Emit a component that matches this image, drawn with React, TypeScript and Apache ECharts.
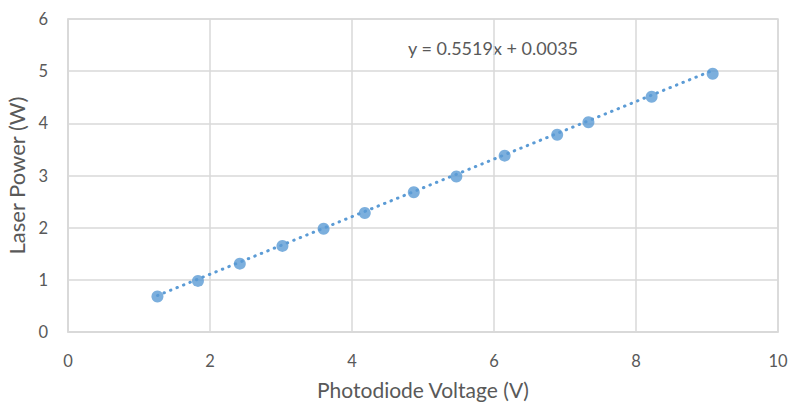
import React, { useEffect, useRef } from "react";
import * as echarts from "echarts";

// Photodiode calibration measurements
const voltage = [1.26, 1.83, 2.42, 3.02, 3.6, 4.18, 4.87, 5.47, 6.15, 6.89, 7.33, 8.22, 9.08];
const power = [0.68, 0.98, 1.31, 1.65, 1.98, 2.28, 2.68, 2.98, 3.38, 3.78, 4.02, 4.51, 4.95];

// Linear fit coefficients shown on the chart
const slope = 0.5519;
const intercept = 0.0035;

const xTicks = [0, 2, 4, 6, 8, 10];
const yTicks = [0, 1, 2, 3, 4, 5, 6];

const FONT = "Lato, 'Open Sans', sans-serif";
const TEXT = "#595959";
const GRID = "#d9d9d9";
const BLUE = "#5b9bd5";

export default function App() {
  const ref = useRef<HTMLDivElement>(null);

  useEffect(() => {
    if (!ref.current) return;
    const chart = echarts.init(ref.current, undefined, { renderer: "svg" });
    const xMin = Math.min(...voltage);
    const xMax = Math.max(...voltage);
    const fit = [xMin, xMax].map((x) => [x, slope * x + intercept]);
    const points = voltage.map((v, i) => [v, power[i]]);

    chart.setOption({
      animation: false,
      backgroundColor: "#ffffff",
      grid: {
        left: 68,
        right: 12,
        top: 19,
        bottom: 73,
        containLabel: false,
        outerBoundsMode: "none",
      },
      xAxis: {
        type: "value",
        min: xTicks[0],
        max: xTicks[xTicks.length - 1],
        interval: 2,
        name: "Photodiode Voltage (V)",
        nameLocation: "middle",
        nameGap: 47,
        nameTextStyle: { color: TEXT, fontFamily: FONT, fontSize: 21 },
        axisLine: { show: true, lineStyle: { color: GRID, width: 1.5 } },
        axisTick: { show: false },
        splitLine: { show: true, lineStyle: { color: GRID, width: 1.5 } },
        axisLabel: { color: TEXT, fontFamily: FONT, fontSize: 16.5, margin: 20 },
      },
      yAxis: {
        type: "value",
        min: yTicks[0],
        max: yTicks[yTicks.length - 1],
        interval: 1,
        name: "Laser Power (W)",
        nameLocation: "middle",
        nameGap: 40,
        nameTextStyle: { color: TEXT, fontFamily: FONT, fontSize: 22 },
        axisLine: { show: true, lineStyle: { color: GRID, width: 1.5 } },
        axisTick: { show: false },
        splitLine: { show: true, lineStyle: { color: GRID, width: 1.5 } },
        axisLabel: { color: TEXT, fontFamily: FONT, fontSize: 16.5, margin: 20 },
      },
      graphic: [
        {
          type: "rect",
          shape: { x: 68, y: 19, width: 710, height: 313 },
          style: { fill: "none", stroke: GRID, lineWidth: 1.5 },
          silent: true,
          z: 0,
        },
        {
          type: "text",
          left: 408,
          top: 39,
          style: {
            text: `y = ${slope}x + ${intercept}`,
            fill: TEXT,
            font: `18px ${FONT}`,
          },
        },
      ],
      series: [
        {
          type: "line",
          data: fit,
          symbol: "none",
          lineStyle: { color: BLUE, width: 3, type: [0.5, 6.5], cap: "round" },
          z: 2,
        },
        {
          type: "scatter",
          data: points,
          symbol: "circle",
          symbolSize: 12,
          itemStyle: { color: BLUE },
          z: 3,
        },
      ],
    });
    return () => chart.dispose();
  }, []);

  return (
    <div
      ref={ref}
      style={{ position: "fixed", left: 0, top: 0, width: 790, height: 405 }}
    />
  );
}
